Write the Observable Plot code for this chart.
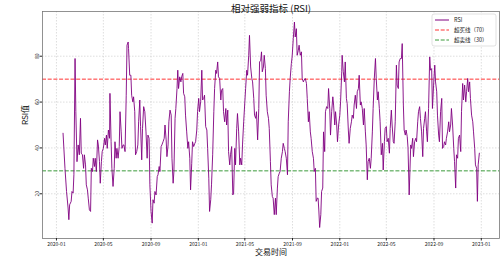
<!DOCTYPE html>
<html><head><meta charset="utf-8">
<script src="https://cdn.jsdelivr.net/npm/d3@7"></script>
<script src="https://cdn.jsdelivr.net/npm/@observablehq/plot@0.6"></script>
<style>body{margin:0;background:#fff}#chart{width:500px;height:261px}</style>
</head><body><div id="chart"></div>
<script>
// day offsets from startDate, RSI value
const startDate = "2020-01-01";
const rsi2020 = [[17,46.4],[22,31.1],[26,21],[30,13.8],[32,8.7],[34,15.2],[38,16.7],[40,21],[43,20.3],[45,28.3],[48,79],[50,55.8],[53,34],[56,41.3],[59,37],[62,52.9],[64,37.7],[67,37],[70,31.1],[72,37],[75,32.6],[77,23.9],[80,21.7],[82,18.1],[85,13],[88,12.3],[90,31.1],[93,29.7],[95,35.5],[98,31.9],[100,35.5],[103,29.7],[106,43.5],[108,41.3],[111,34],[113,24.6],[116,34],[118,38.4],[121,39.8],[124,44.2],[126,41.3],[129,45.6],[131,39.8],[134,47.8],[137,44.2],[138,63.8],[141,42.7],[143,31.1],[146,23.2],[149,31.1],[151,42.7],[154,35.5],[156,39.8],[159,35.5],[162,40.6],[164,55.8],[167,47],[169,39.8],[172,41.3],[174,41.3],[177,38.4],[180,63],[182,84.8],[185,86.2],[186,83.3],[189,71.7],[192,71.7],[194,63],[197,60.1],[199,62.3],[202,55.8],[204,37],[207,38.4],[210,41.3],[212,51.4],[215,60.9],[217,49.3],[220,34.8],[222,48.5],[225,58],[228,55.8],[231,47],[234,35.5],[236,45.6],[239,44.2],[241,23.9],[244,12.3],[247,7.2],[249,17.4],[252,15.9],[254,21],[257,19.5],[260,27.5],[262,28.3],[265,31.9],[267,29.7],[270,40.6],[272,41.3],[275,42.7],[278,44.2],[280,50],[283,43.5],[285,36.2],[288,41.3],[290,51.4],[293,56.5],[296,54.3],[298,35.5],[301,24.6],[303,29.7],[306,52.9],[308,57.2],[311,65.9],[313,73.9],[315,65.9],[318,71],[321,68.8],[323,71],[326,72.5],[328,63.8],[331,62.3],[333,54.3],[336,47],[339,39.8],[341,42.7],[344,35.5],[346,21.7],[349,33.3],[351,42.7],[354,40.6],[357,42],[359,42.7],[362,47.8],[364,55.8]];
const rsi2021 = [[367,61.6],[369,55.8],[372,60.1],[375,73.9],[377,60.9],[380,61.6],[382,63],[385,49.3],[388,47.8],[390,39.8],[393,26.8],[395,12.3],[398,17.4],[400,23.9],[403,37],[406,55.8],[408,65.9],[411,73.9],[413,72.5],[416,77.5],[418,71],[421,70.3],[424,60.9],[426,65.2],[429,65.9],[431,55.8],[434,51.4],[437,57.2],[439,50],[442,56.5],[444,38.4],[447,32.6],[449,37],[452,40.6],[455,19.5],[457,20.3],[460,39.8],[462,32.6],[465,48.5],[467,55],[470,47],[473,32.6],[475,35.5],[478,32.6],[480,41.3],[483,51.4],[486,60.1],[488,65.9],[491,73.9],[493,71.7],[496,80.4],[498,89.1],[501,75.3],[504,70.3],[506,68.8],[509,61.6],[511,54.3],[514,52.9],[516,55.8],[519,43.5],[522,57.2],[524,77.5],[527,78.2],[529,81.9],[531,73.2],[534,75.3],[536,80.4],[539,74.6],[541,63],[544,55.8],[547,52.9],[549,48.5],[552,34],[554,23.9],[557,18.8],[559,18.1],[562,10.9],[565,18.1],[567,10.9],[570,22.5],[572,27.5],[575,29],[577,29.7],[580,35.5],[583,38.4],[585,42],[588,39.8],[590,38.4],[593,35.5],[596,28.3],[598,51.4],[601,64.5],[603,70.3],[606,76.8],[608,79.7],[611,87.7],[614,94.9],[616,88.4],[619,92],[621,80.4],[624,82.6],[626,84.8],[629,80.4],[632,81.9],[634,70.3],[637,68.8],[639,69.6],[642,70.3],[645,68.1],[647,61.6],[650,51.4],[652,55.8],[655,47],[657,44.2],[660,38.4],[663,35.5],[665,29.7],[668,31.1],[670,16.7],[673,18.1],[675,18.1],[677,12.5],[679,5.3],[682,10.9],[684,21],[687,22.5],[689,47],[692,38.4],[694,55.8],[697,58],[700,57.2],[702,65.9],[705,57.2],[707,45.6],[710,55.8],[713,62.3],[715,58.7],[718,50],[720,55.8],[723,50],[725,42.7],[728,50]];
const rsi2022 = [[731,54.3],[733,60.1],[736,73.2],[737,80.4],[740,73.2],[743,68.8],[745,77.5],[748,61.6],[750,59.4],[753,47.8],[755,42],[758,48.5],[761,51.4],[763,54.3],[766,52.9],[768,58.7],[771,63],[774,57.2],[776,64.5],[779,65.9],[781,71.7],[784,58.7],[786,60.1],[789,57.2],[792,50],[794,57.2],[797,47],[799,41.3],[802,26.1],[804,34],[807,35.5],[810,31.1],[812,35.5],[815,47],[817,57.2],[820,70.3],[823,79],[825,70.3],[828,60.9],[830,64.5],[833,57.2],[835,51.4],[838,37],[841,42],[843,30.4],[846,42.7],[848,48.5],[851,49.3],[853,42.7],[856,44.2],[859,37.7],[861,48.5],[864,56.5],[866,50],[869,42.7],[871,42],[874,51.4],[877,76.1],[879,67.4],[882,65.9],[884,77.5],[887,79],[890,79],[892,85.5],[895,58.7],[897,47.8],[900,45.6],[902,47.8],[905,44.9],[907,40],[910,19.5],[914,41.3],[916,39.8],[919,44.2],[921,36.2],[924,42.7],[927,44.2],[929,42.7],[932,51.4],[934,55.8],[937,58],[939,52.9],[942,47],[945,36.2],[947,48.5],[950,52.9],[952,55.8],[955,47],[957,42.7],[960,57.2],[963,79.7],[965,73.9],[968,74.6],[970,57.2],[973,67.4],[976,76.1],[978,68.8],[981,64.5],[983,54.3],[986,45.6],[988,42.7],[991,55.8],[994,61.6],[996,39.8],[999,40.6],[1001,42.7],[1004,41.3],[1006,44.2],[1009,47],[1012,51.4],[1014,47],[1017,50],[1019,57.2],[1022,50],[1025,39.8],[1027,34],[1030,22.5],[1032,37],[1035,35.5],[1037,44.2],[1040,45.6],[1043,38.4],[1045,55.8],[1048,68.1],[1050,60.9],[1053,67.4],[1056,60.1],[1058,64.5],[1061,70.3],[1063,64.5],[1066,68.8],[1068,61.6],[1071,54.3],[1074,51.4],[1076,47],[1079,39.8],[1081,32.6],[1084,31.1],[1086,16.7],[1088,32.6],[1091,37.7]];

const overbought = 70;
const oversold = 30;
const yTicks = [20, 40, 60, 80];
const xTickLabels = ["2020-01","2020-05","2020-09","2021-01","2021-05","2021-09","2022-01","2022-05","2022-09","2023-01"];
const legendLabels = ["RSI", "超买线（70）", "超卖线（30）"];
const titleText = "相对强弱指标 (RSI)";
const xLabel = "交易时间";
const yLabel = "RSI值";

const t0 = new Date(startDate);
const data = [...rsi2020, ...rsi2021, ...rsi2022].map(([d, v]) => ({date: d3.utcDay.offset(t0, d), rsi: v}));
const xTicks = xTickLabels.map(s => new Date(s + "-01"));
const font = "'Noto Sans CJK SC', 'Noto Sans', sans-serif";
const colors = {rsi: "purple", ob: "#ff3333", os: "#3a9a3a"};
const gridStyle = {stroke: "#c8c8c8", strokeOpacity: 1, strokeDasharray: "1.5,1.5", strokeWidth: 0.6};

const chart = Plot.plot({
  width: 500, height: 261,
  marginLeft: 42, marginRight: 1, marginTop: 11, marginBottom: 23,
  style: {fontFamily: font, fontSize: "5px", background: "#fff", color: "#222"},
  x: {type: "utc", domain: [new Date("2019-11-26"), new Date("2023-02-17")]},
  y: {domain: [0.5, 99.5]},
  marks: [
    Plot.gridX(xTicks, gridStyle),
    Plot.gridY(yTicks, gridStyle),
    Plot.ruleY([overbought], {stroke: colors.ob, strokeWidth: 1, strokeDasharray: "4,1.7"}),
    Plot.ruleY([oversold], {stroke: colors.os, strokeWidth: 1, strokeDasharray: "4,1.7"}),
    Plot.lineY(data, {x: "date", y: "rsi", stroke: colors.rsi, strokeWidth: 0.9}),
    Plot.frame({stroke: "#777", strokeWidth: 0.8}),
    Plot.axisX({ticks: xTicks, tickFormat: d3.utcFormat("%Y-%m"), tickSize: 2.5, tickPadding: 1.5, label: null}),
    Plot.axisY({ticks: yTicks, tickSize: 2.5, tickPadding: 1.5, tickRotate: -90, label: null}),
    Plot.text([titleText], {frameAnchor: "top", dy: -6, fontSize: 9.5, fill: "#111"}),
    Plot.text([xLabel], {frameAnchor: "bottom", dy: 16, fontSize: 8, fill: "#111"}),
    Plot.text([yLabel], {frameAnchor: "left", dx: -17, rotate: -90, fontSize: 8, fill: "#111"})
  ]
});

// legend box (upper right, matplotlib style)
const svg = d3.select(chart);
const lg = svg.append("g").attr("font-family", font).attr("font-size", 5.5).attr("text-anchor", "start");
lg.append("rect").attr("x", 432).attr("y", 14).attr("width", 64).attr("height", 32).attr("rx", 2)
  .attr("fill", "#fff").attr("fill-opacity", 0.85).attr("stroke", "#ccc").attr("stroke-width", 0.6);
const lstyles = [
  {c: colors.rsi, dash: null},
  {c: colors.ob, dash: "4,1.7"},
  {c: colors.os, dash: "4,1.7"}
];
legendLabels.forEach((t, i) => {
  const yy = 20 + i * 10;
  const ln = lg.append("line").attr("x1", 435).attr("x2", 449).attr("y1", yy).attr("y2", yy)
    .attr("stroke", lstyles[i].c).attr("stroke-width", 1);
  if (lstyles[i].dash) ln.attr("stroke-dasharray", lstyles[i].dash);
  lg.append("text").attr("x", 454).attr("y", yy).attr("dy", "0.35em").attr("fill", "#222")
    .attr("text-anchor", "start").text(t);
});

document.getElementById("chart").appendChild(chart);
</script>
</body></html>
